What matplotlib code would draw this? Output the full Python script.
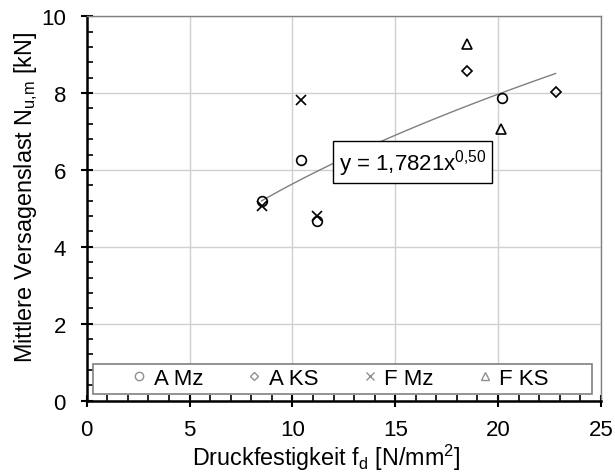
import numpy as np
import matplotlib.pyplot as plt
from matplotlib.patches import Rectangle
from matplotlib.ticker import MultipleLocator

plt.rcParams['font.family'] = ['Liberation Sans', 'DejaVu Sans']
plt.rcParams['mathtext.fontset'] = 'custom'
plt.rcParams['mathtext.rm'] = 'Liberation Sans'

# measured values
a_mz_x = [8.5, 10.4, 11.2, 20.2]
a_mz_y = [5.18, 6.25, 4.68, 7.87]
a_ks_x = [18.47, 22.8]
a_ks_y = [8.58, 8.02]
f_mz_x = [8.5, 10.4, 11.2]
f_mz_y = [5.07, 7.83, 4.8]
f_ks_x = [18.47, 20.15]
f_ks_y = [9.27, 7.06]

# trend line y = 1.7821 x^0.5
fit_a = 1.7821
fit_b = 0.5
fit_x0, fit_x1 = 8.5, 22.8

fig = plt.figure(figsize=(6.15, 4.77), dpi=100)
ax = fig.add_axes([0.141, 0.158, 0.836, 0.806])

xf = np.linspace(fit_x0, fit_x1, 100)
ax.plot(xf, fit_a * xf**fit_b, color='#7f7f7f', lw=1.0, zorder=2)

mk = dict(ls='none', mfc='none', mec='black', mew=1.2, ms=7, zorder=3)
ax.plot(a_mz_x, a_mz_y, marker='o', **mk)
ax.plot(a_ks_x, a_ks_y, marker='D', **{**mk, 'ms': 5.5})
ax.plot(f_mz_x, f_mz_y, marker='x', **{**mk, 'ms': 7.5})
ax.plot(f_ks_x, f_ks_y, marker='^', **mk)

# legend box and entries
ax.add_patch(Rectangle((0.012, 0.018), 0.97, 0.078, transform=ax.transAxes,
                       fc='white', ec='#808080', lw=1.2, zorder=5))
lg = dict(ls='none', mfc='none', mec='#909090', mew=1.0, ms=6)
h = [ax.plot([], [], marker='o', **lg)[0],
     ax.plot([], [], marker='D', **{**lg, 'ms': 4.5})[0],
     ax.plot([], [], marker='x', **lg)[0],
     ax.plot([], [], marker='^', **lg)[0]]
leg = ax.legend(h, ['A Mz', 'A KS', 'F Mz', 'F KS'], ncol=4, loc='center',
                bbox_to_anchor=(0.495, 0.057), fontsize=16, frameon=False,
                handlelength=0.5, handletextpad=0.4, columnspacing=2.05,
                borderpad=0.0)
leg.set_zorder(6)

ax.text(15.85, 6.2, 'y = 1,7821x$^{\\mathregular{0{,}50}}$', fontsize=16, ha='center', va='center',
        bbox=dict(boxstyle='square,pad=0.25', fc='white', ec='black', lw=1.0), zorder=4)

ax.set_xlim(0, 25)
ax.set_ylim(0, 10)
ax.xaxis.set_major_locator(MultipleLocator(5))
ax.xaxis.set_minor_locator(MultipleLocator(1))
ax.yaxis.set_major_locator(MultipleLocator(2))
ax.yaxis.set_minor_locator(MultipleLocator(0.4))
ax.grid(True, which='major', color='#d0d0d0', lw=1.0)
ax.set_axisbelow(True)
ax.tick_params(which='major', direction='inout', length=9, width=1.5, labelsize=16)
ax.tick_params(axis='x', which='major', pad=9)
ax.tick_params(axis='y', which='major', pad=10.5)
ax.tick_params(which='minor', direction='in', length=4, width=1.2)
for s in ['left', 'bottom']:
    ax.spines[s].set_linewidth(1.8)
for s in ['top', 'right']:
    ax.spines[s].set_color('#808080')
    ax.spines[s].set_linewidth(1.0)

ax.set_xlabel('Druckfestigkeit f$_\\mathregular{d}$ [N/mm$^\\mathregular{2}$]', fontsize=16.8)
ax.set_ylabel('Mittlere Versagenslast N$_\\mathregular{u{,}m}$ [kN]', fontsize=16.8)
ax.xaxis.set_label_coords(0.466, -0.108)
ax.yaxis.set_label_coords(-0.09, 0.53)

fig.savefig('out.png', dpi=100)
